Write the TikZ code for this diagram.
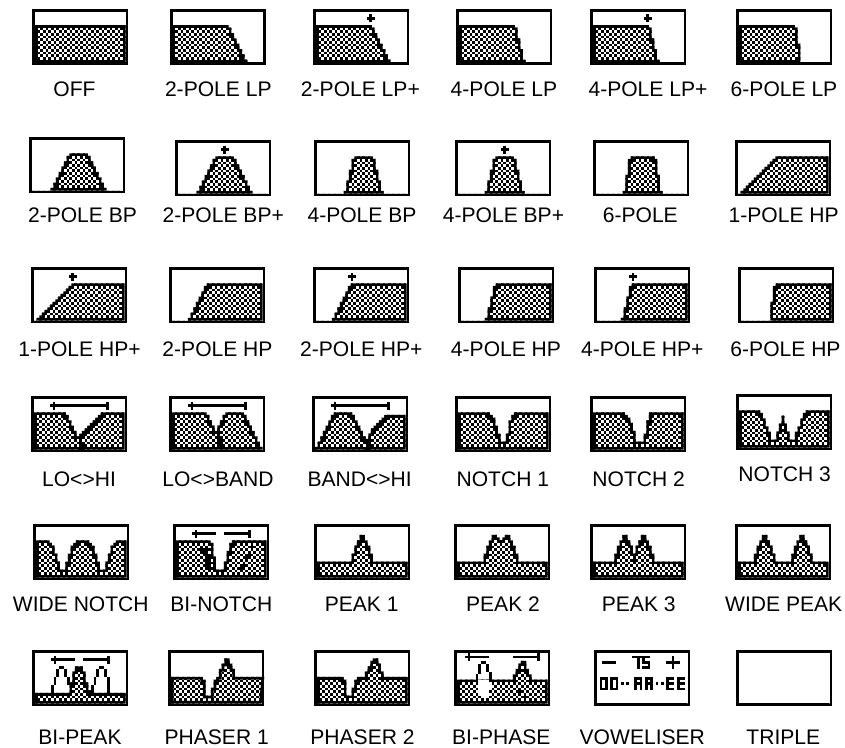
\documentclass[tikz,border=0pt]{standalone}
\usepackage{fontspec}
\setmainfont{Liberation Sans}
\tikzset{
  lbl/.style={anchor=base,inner sep=0pt,font=\fontsize{15.8}{18}\selectfont,text=black},
  lcdcheck/.style={line width=2pt,dash pattern=on 2pt off 2pt},
  lcdoutline/.style={line width=4pt,line join=miter,miter limit=10},
  lcdframe/.style={line width=2.2pt}
}
\newcommand\mkpath[1]{%
  \gdef\rp{(1,20)}\gdef\rcx{1}%
  \foreach \rw/\rt in {#1}{%
    \pgfmathtruncatemacro\rnx{\rcx+\rw}%
    \xdef\rp{\rp -- (\rcx,\rt) -- (\rnx,\rt)}%
    \global\let\rcx\rnx
  }%
  \xdef\rp{\rp -- (35,20) -- cycle}%
}
\newcommand\px[4]{\fill[black] (#1,#2) rectangle ++(#3,#4);}
\newcommand\wpx[4]{\fill[white] (#1,#2) rectangle ++(#3,#4);}
\newcommand\plusg[2]{\px{#1}{#2+1}{3}{1}\px{#1+1}{#2}{1}{3}}
\newcommand\icon[4]{%
  \begin{scope}[shift={(#1,#2)},x=2pt,y=-2pt]
    \mkpath{#3}
    \fill[white] (0,0) rectangle (36,21);
    \begin{scope}
      \edef\tmpcmd{\noexpand\clip \rp;}\tmpcmd
      \foreach \rr in {1,3,...,19}{\draw[lcdcheck] (1,\rr+0.5) -- (35,\rr+0.5);}
      \foreach \rr in {2,4,...,18}{\draw[lcdcheck,dash phase=2pt] (1,\rr+0.5) -- (35,\rr+0.5);}
      \edef\tmpcmd{\noexpand\draw[lcdoutline] \rp;}\tmpcmd
    \end{scope}
    #4
    \draw[lcdframe] (0.5,0.5) rectangle (35.5,20.5);
  \end{scope}}
\newcommand\arrfull{\px{7}{3}{22}{1}\px{8}{2}{1}{3}\px{28}{2}{1}{3}}
\newcommand\arrbi{\px{7}{3}{9}{1}\px{8}{2}{1}{3}\px{19}{3}{10}{1}\px{28}{2}{1}{3}}
\begin{document}
\begin{tikzpicture}[x=0.75pt,y=-0.75pt]
\useasboundingbox (0,0) rectangle (845,747);
\fill[white] (0,0) rectangle (845,747);
% row 1
\icon{32.3}{9}{34/6}{}
\icon{170}{9}{21/6,1/7,1/9,1/11,1/13,1/15,1/17,1/19,6/20}{}
\icon{313.3}{9}{21/6,1/7,1/9,1/11,1/13,1/15,1/17,1/19,6/20}{\plusg{20}{2}}
\icon{456.3}{9}{21/6,1/7,1/11,1/15,1/19,9/20}{}
\icon{590.3}{9}{21/6,1/7,1/11,1/15,1/19,9/20}{\plusg{20}{2}}
\icon{736.3}{9}{21/6,1/7,1/13,11/20}{}
% row 2
\icon{29.3}{137.3}{7/20,1/19,1/17,1/15,1/13,1/11,1/9,1/7,7/6,1/7,1/9,1/11,1/13,1/15,1/17,1/19,6/20}{}
\icon{175.3}{140.3}{7/20,1/19,1/17,1/15,1/13,1/11,1/9,1/7,7/6,1/7,1/9,1/11,1/13,1/15,1/17,1/19,6/20}{\plusg{17}{2}}
\icon{314.3}{140.3}{10/20,1/19,1/15,1/11,1/7,7/6,1/7,1/11,1/15,1/19,9/20}{}
\icon{455.3}{140.3}{10/20,1/19,1/15,1/11,1/7,7/6,1/7,1/11,1/15,1/19,9/20}{\plusg{17}{2}}
\icon{593.3}{140.3}{10/20,1/19,1/13,1/7,9/6,1/7,1/13,1/19,9/20}{}
\icon{735.3}{140.3}{1/20,1/19,1/18,1/17,1/16,1/15,1/14,1/13,1/12,1/11,1/10,1/9,1/8,1/7,20/6}{}
% row 3
\icon{31.3}{267.3}{1/20,1/19,1/18,1/17,1/16,1/15,1/14,1/13,1/12,1/11,1/10,1/9,1/8,1/7,20/6}{\plusg{14}{2}}
\icon{169.3}{267.3}{6/20,1/19,1/17,1/15,1/13,1/11,1/9,1/7,21/6}{}
\icon{313.3}{267.3}{6/20,1/19,1/17,1/15,1/13,1/11,1/9,1/7,21/6}{\plusg{13}{2}}
\icon{458.3}{267.3}{9/20,1/19,1/15,1/11,1/7,21/6}{}
\icon{594.3}{267.3}{9/20,1/19,1/15,1/11,1/7,21/6}{\plusg{13}{2}}
\icon{738.3}{267.3}{11/20,1/13,1/7,21/6}{}
% row 4
\icon{31.3}{396.3}{12/6,1/7,1/9,1/11,1/13,1/15,1/14,1/13,1/12,1/11,1/10,1/9,1/8,1/7,9/6}{\arrfull\px{18}{16}{1}{2}\px{18}{18}{2}{2}}
\icon{169.3}{396.3}{13/6,1/7,1/9,1/11,1/13,1/11,1/9,1/7,7/6,1/7,1/9,1/11,1/13,1/15,1/17,1/19}{\arrfull\px{18}{14}{1}{3}\px{18}{16}{2}{3}}
\icon{312.3}{396.3}{1/19,1/17,1/15,1/13,1/11,1/9,1/7,7/6,1/7,1/9,1/11,1/13,1/15,1/16,1/14,1/12,1/11,1/10,1/9,1/8,8/7}{\arrfull\px{20}{17}{2}{3}}
\icon{455.3}{396.3}{12/6,1/7,1/8,1/11,1/14,2/17,1/14,1/9,1/7,13/6}{}
\icon{590.3}{396.3}{12/6,1/7,1/8,1/10,1/13,3/17,1/14,1/9,13/6}{}
\icon{736.3}{394.3}{8/6,1/7,1/9,1/12,1/14,2/17,1/14,1/11,1/8,1/11,1/14,2/17,1/14,1/12,1/9,1/7,9/6}{}
% row 5
\icon{33.3}{524.3}{5/6,1/7,1/8,1/11,1/14,2/17,1/14,1/11,1/8,1/7,5/6,1/7,1/8,1/11,1/14,2/17,1/14,1/11,1/8,1/7,4/6}{}
\icon{173.3}{524.3}{13/6,1/7,1/12,3/17,1/14,1/10,1/7,13/6}{\arrbi\px{10}{8}{1}{2}\px{11}{9}{2}{3}\px{12}{12}{2}{5}\px{29}{7}{1}{3}\px{28}{10}{1}{2}\px{27}{12}{1}{2}\px{26}{14}{1}{2}\px{25}{16}{1}{2}}
\icon{314.3}{524.3}{13/14,1/11,1/8,1/6,2/4,1/6,1/8,1/11,13/14}{}
\icon{454.3}{524.3}{10/14,1/11,1/8,1/6,2/4,1/5,1/6,1/5,2/4,1/6,1/8,1/11,11/14}{\px{17}{6}{1}{2}}
\icon{590.3}{524.3}{8/14,1/11,1/8,1/6,2/4,1/6,1/8,1/11,1/8,1/6,2/4,1/6,1/8,1/11,11/14}{\px{16}{12}{1}{2}}
\icon{735.3}{524.3}{6/14,1/11,1/8,1/6,2/4,1/6,1/8,1/11,6/14,1/11,1/8,1/6,2/4,1/6,1/8,1/11,6/14}{}
% row 6
\icon{32.3}{650.3}{13/16,1/12,1/8,3/6,1/8,1/12,1/15,13/16}{\arrbi
  \px{7}{13}{1}{3}\px{8}{10}{1}{3}\px{9}{7}{1}{3}\px{10}{6}{2}{1}\px{12}{7}{1}{3}\px{13}{10}{1}{3}\px{14}{13}{1}{3}
  \px{22}{13}{1}{3}\px{23}{10}{1}{3}\px{24}{7}{1}{3}\px{25}{6}{2}{1}\px{27}{7}{1}{3}\px{28}{10}{1}{6}}
\icon{168.3}{650.3}{12/10,1/11,2/17,1/14,1/11,1/10,1/7,1/5,2/3,1/5,1/7,1/10,10/10}{}
\icon{314.3}{650.3}{10/10,1/11,2/17,1/14,1/11,3/10,1/8,1/6,1/4,2/3,1/5,1/8,9/10}{}
\icon{454.3}{650.3}{21/11,1/9,1/7,1/5,2/4,1/7,1/9,6/11}{%
  \px{5}{1}{1}{3}\wpx{9}{11}{5}{3}\wpx{9}{14}{4}{2}\wpx{10}{16}{3}{2}
  \px{4}{2}{9}{1}\px{22}{2}{10}{1}\px{31}{1}{1}{3}
  \px{8}{9}{1}{3}\px{9}{6}{1}{3}\px{10}{4}{2}{1}\px{9}{5}{1}{1}\px{12}{5}{1}{3}\px{13}{8}{1}{4}
  \px{24}{15}{1}{2}\px{26}{16}{1}{3}}
\icon{594.3}{650.3}{34/20}{%
  \px{3}{4}{5}{1}\px{27}{4}{5}{1}\px{29}{2}{1}{5}
  \px{14}{2}{4}{1}\px{16}{3}{1}{4}
  \px{18}{2}{3}{1}\px{18}{3}{1}{1}\px{18}{4}{3}{1}\px{20}{5}{1}{1}\px{18}{6}{3}{1}
  \foreach \ox in {2,6}{\px{\ox}{10}{3}{1}\px{\ox}{14}{3}{1}\px{\ox}{11}{1}{3}\px{\ox+2}{11}{1}{3}}
  \px{10}{12}{1}{1}\px{12}{12}{1}{1}
  \foreach \ox in {15,19}{\px{\ox}{10}{3}{1}\px{\ox}{12}{3}{1}\px{\ox}{11}{1}{4}\px{\ox+2}{11}{1}{4}}
  \px{23}{12}{1}{1}\px{25}{12}{1}{1}
  \foreach \ox in {27,31}{\px{\ox}{10}{3}{1}\px{\ox}{12}{3}{1}\px{\ox}{14}{3}{1}\px{\ox}{11}{1}{3}}
}
\icon{736.3}{650.3}{34/20}{}
% labels
\node[lbl] (n11) at (74.5,96.7) {OFF};
\node[lbl] (n12) at (218.3,96.7) {2-POLE LP};
\node[lbl] (n13) at (360.4,96.7) {2-POLE LP+};
\node[lbl] (n14) at (504,96.7) {4-POLE LP};
\node[lbl] (n15) at (648,96.7) {4-POLE LP+};
\node[lbl] (n16) at (784,96.7) {6-POLE LP};
\node[lbl] (n21) at (82.5,222.7) {2-POLE BP};
\node[lbl] (n22) at (223.3,222.7) {2-POLE BP+};
\node[lbl] (n23) at (362,222.7) {4-POLE BP};
\node[lbl] (n24) at (503.5,222.7) {4-POLE BP+};
\node[lbl] (n25) at (640.3,222.7) {6-POLE};
\node[lbl] (n26) at (783.7,222.7) {1-POLE HP};
\node[lbl] (n31) at (79.5,356) {1-POLE HP+};
\node[lbl] (n32) at (217.5,356) {2-POLE HP};
\node[lbl] (n33) at (361.3,356) {2-POLE HP+};
\node[lbl] (n34) at (506,356) {4-POLE HP};
\node[lbl] (n35) at (642.3,356) {4-POLE HP+};
\node[lbl] (n36) at (785.5,356) {6-POLE HP};
\node[lbl] (n41) at (79,486) {LO<>HI};
\node[lbl] (n42) at (218,486) {LO<>BAND};
\node[lbl] (n43) at (359.7,486) {BAND<>HI};
\node[lbl] (n44) at (502.8,486) {NOTCH 1};
\node[lbl] (n45) at (638.7,486) {NOTCH 2};
\node[lbl] (n46) at (784.7,481.7) {NOTCH 3};
\node[lbl] (n51) at (80.8,611.7) {WIDE NOTCH};
\node[lbl] (n52) at (221.3,611.7) {BI-NOTCH};
\node[lbl] (n53) at (361.7,611.7) {PEAK 1};
\node[lbl] (n54) at (503,611.7) {PEAK 2};
\node[lbl] (n55) at (638.8,611.7) {PEAK 3};
\node[lbl] (n56) at (783.7,611.7) {WIDE PEAK};
\node[lbl] (n61) at (80,744) {BI-PEAK};
\node[lbl] (n62) at (216.7,744) {PHASER 1};
\node[lbl] (n63) at (362.5,744) {PHASER 2};
\node[lbl] (n64) at (501.3,744) {BI-PHASE};
\node[lbl] (n65) at (642.3,744) {VOWELISER};
\node[lbl] (n66) at (783.3,744) {TRIPLE};
\end{tikzpicture}
\end{document}
